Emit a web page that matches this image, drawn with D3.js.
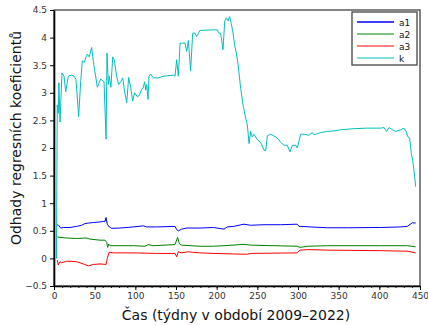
<!doctype html>
<html lang="cs">
<head>
<meta charset="utf-8">
<title>Odhady regresních koeficientů</title>
<style>
  body { margin: 0; background: #fff; }
  svg text { font-family: "DejaVu Sans", sans-serif; fill: #111; }
</style>
</head>
<body>
<script src="https://cdnjs.cloudflare.com/ajax/libs/d3/7.8.5/d3.min.js"></script>
<script>
// [week, value] pairs
var a1 = [[4,0.61],[5.7,0.6],[8.2,0.55],[11.5,0.56],[19.7,0.56],[27.9,0.58],[34,0.6],[38,0.63],[42.2,0.64],[48.3,0.65],[56.6,0.66],[60.6,0.67],[62.7,0.67],[64,0.74],[65.5,0.62],[68,0.57],[70.9,0.545],[81,0.55],[97.5,0.57],[110,0.59],[114,0.57],[126.3,0.57],[148.8,0.58],[150.9,0.52],[152.9,0.5],[157,0.53],[163.2,0.55],[179.5,0.55],[196,0.56],[209,0.53],[213,0.57],[221,0.58],[233.6,0.62],[241.8,0.6],[258.2,0.61],[278.7,0.61],[299,0.62],[301.2,0.58],[303.3,0.58],[315.6,0.57],[336,0.555],[360.6,0.555],[401.7,0.56],[426.3,0.57],[434.4,0.58],[440.6,0.645],[444.7,0.64]];
var a2 = [[4,0.39],[7.4,0.38],[15.6,0.37],[27.9,0.36],[40,0.37],[44,0.35],[56.6,0.33],[62.7,0.33],[64.8,0.29],[66,0.2],[67.2,0.26],[68.8,0.23],[97.5,0.23],[111.9,0.22],[116,0.25],[122,0.23],[148.8,0.25],[152,0.38],[154,0.27],[157,0.24],[179.5,0.22],[196,0.22],[209,0.23],[233.6,0.255],[241.8,0.24],[299,0.22],[302.4,0.2],[312,0.22],[336,0.23],[401.7,0.23],[434.4,0.23],[444.7,0.21]];
var a3 = [[4,-0.03],[5.3,-0.12],[7.4,-0.06],[9.5,-0.08],[15.6,-0.05],[27.9,-0.06],[36,-0.1],[42.2,-0.135],[48.3,-0.11],[56.6,-0.1],[64,-0.11],[65.5,0.0],[68,0.115],[73,0.1],[97.5,0.1],[126.3,0.09],[148.8,0.09],[150.9,0.03],[152.9,0.12],[157,0.1],[165,0.12],[171,0.11],[179.5,0.1],[196.7,0.09],[221,0.08],[237.7,0.075],[241.8,0.09],[299,0.1],[302.4,0.15],[312,0.16],[336,0.15],[401.7,0.14],[434.4,0.13],[444.7,0.1]];
var k = [[3,0.0],[4,2.78],[5.3,2.63],[6,3.18],[7.4,2.47],[9.8,3.36],[12.3,3.3],[14.4,3.02],[17.6,3.3],[21.7,3.32],[24.6,3.3],[27,3.25],[30.3,2.57],[32.8,3.2],[34.8,3.58],[37.3,3.55],[39.3,3.65],[41,3.7],[43.4,3.65],[46.3,3.82],[48.3,3.58],[49.6,3.45],[53.3,3.1],[57.4,3.25],[61.5,3.2],[64,2.16],[65.2,3.72],[66.8,3.15],[68,3.3],[70,3.1],[72.2,3.65],[74.1,3.6],[77,3.3],[79.5,3.15],[82,3.2],[84.5,3.27],[86.5,3.05],[89.4,2.82],[91.8,3.28],[94.3,3.1],[96.7,2.85],[99.2,3.0],[102.4,2.93],[104.9,2.95],[107.3,3.05],[109.8,3.1],[111.5,3.2],[112.7,3.05],[114,3.15],[115.6,2.88],[116.8,3.3],[118.9,3.34],[122,3.27],[128.2,3.27],[134.4,3.3],[146.7,3.32],[148.8,3.3],[150.9,3.6],[152.9,3.3],[155,3.9],[161,3.9],[163.2,3.75],[165.2,3.95],[168,3.4],[170.5,4.08],[173.4,4.08],[175.4,4.02],[179.5,4.13],[196,4.14],[200.8,4.14],[202.9,4.08],[204.9,4.08],[207.8,3.78],[209.9,4.3],[211.9,4.36],[214,4.3],[216,4.38],[218,4.25],[220,4.1],[222.2,3.85],[224.2,3.72],[226.2,3.53],[229.5,3.08],[232.8,2.75],[235.7,2.54],[237.7,2.42],[239.8,2.08],[241.8,2.3],[243.8,2.2],[245.9,2.25],[250,2.15],[254.2,2.1],[258.2,1.96],[260.3,1.95],[262.3,2.22],[266.4,2.25],[272.6,2.2],[276.6,2.15],[278.7,2.1],[282.8,2.05],[286.8,2.05],[290.2,1.93],[293,2.05],[297.2,2.05],[299.2,2.0],[303.3,2.25],[307.4,2.25],[313.5,2.23],[317.6,2.28],[319.7,2.24],[328,2.28],[336,2.3],[344.3,2.31],[352.5,2.33],[368.9,2.35],[385.2,2.36],[401.7,2.36],[405.8,2.37],[409,2.3],[411.9,2.37],[416,2.33],[420.1,2.3],[426.3,2.33],[430.3,2.36],[432.8,2.3],[435.2,2.2],[437.3,2.18],[439.3,1.9],[441,1.78],[443,1.55],[444.7,1.3]];

var seriesNames = ["a1", "a2", "a3", "k"];
var seriesData = [a1, a2, a3, k];
var colors = ["#0000ff", "#008000", "#ff0000", "#00bfbf"];
var xTicks = [0, 50, 100, 150, 200, 250, 300, 350, 400, 450];
var yTicks = [-0.5, 0, 0.5, 1, 1.5, 2, 2.5, 3, 3.5, 4, 4.5];

var w = 428, h = 325;
var margin = {left: 54, right: 8, top: 10, bottom: 39};

var svg = d3.select("body").append("svg")
  .attr("width", w)
  .attr("height", h);

var x = d3.scaleLinear().domain([0, 450]).range([margin.left, w - margin.right]);
var y = d3.scaleLinear().domain([-0.5, 4.5]).range([h - margin.bottom, margin.top]);

// frame (top/right)
svg.append("rect")
  .attr("x", x(0)).attr("y", y(4.5))
  .attr("width", x(450) - x(0)).attr("height", y(-0.5) - y(4.5))
  .attr("fill", "none").attr("stroke", "#333").attr("stroke-width", 1.2);

var line = d3.line()
  .x(function(d) { return x(d[0]); })
  .y(function(d) { return y(d[1]); });

svg.selectAll("path.series")
  .data(seriesData)
  .enter().append("path")
  .attr("class", "series")
  .attr("d", line)
  .attr("fill", "none")
  .attr("stroke", function(d, i) { return colors[i]; })
  .attr("stroke-width", 1);

// x axis with minor ticks
svg.append("g")
  .attr("transform", "translate(0," + y(-0.5) + ")")
  .call(d3.axisBottom(x).tickValues(d3.range(0, 451, 10)).tickSize(2).tickFormat(""))
  .call(function(g) { g.select(".domain").remove(); g.selectAll("line").attr("stroke", "#111"); });

var xAxis = svg.append("g")
  .attr("transform", "translate(0," + y(-0.5) + ")")
  .call(d3.axisBottom(x).tickValues(xTicks).tickSize(4).tickSizeOuter(0).tickPadding(3).tickFormat(d3.format("d")));
xAxis.select(".domain").attr("stroke", "#000").attr("stroke-width", 1.6);
xAxis.selectAll("text").style("font-size", "9px").style("fill", "#333");

var yAxis = svg.append("g")
  .attr("transform", "translate(" + x(0) + ",0)")
  .call(d3.axisLeft(y).tickValues(yTicks).tickSize(4).tickSizeOuter(0).tickPadding(3)
    .tickFormat(function(d) { return d3.format("")(d).replace("-", "\u2212"); }));
yAxis.select(".domain").attr("stroke", "#000").attr("stroke-width", 1.6);
yAxis.selectAll("text").style("font-size", "9px").style("fill", "#333");

// axis labels
svg.append("text")
  .attr("x", 236)
  .attr("y", 320)
  .attr("text-anchor", "middle")
  .style("font-size", "14px")
  .text("Čas (týdny v období 2009–2022)");

svg.append("text")
  .attr("transform", "translate(21,138) rotate(-90)")
  .attr("text-anchor", "middle")
  .style("font-size", "14px")
  .text("Odhady regresních koeficientů");

// legend
var lg = svg.append("g").attr("transform", "translate(352,12)");
lg.append("rect")
  .attr("width", 65).attr("height", 53)
  .attr("fill", "#fff").attr("stroke", "#444").attr("stroke-width", 1.3);
seriesNames.forEach(function(name, i) {
  var yy = 10 + i * 12;
  lg.append("line")
    .attr("x1", 5).attr("x2", 42).attr("y1", yy).attr("y2", yy)
    .attr("stroke", colors[i]).attr("stroke-width", i === 0 ? 1.5 : 1);
  lg.append("text")
    .attr("x", 47).attr("y", yy + 3.5)
    .style("font-size", "9px")
    .text(name);
});
</script>
</body>
</html>
